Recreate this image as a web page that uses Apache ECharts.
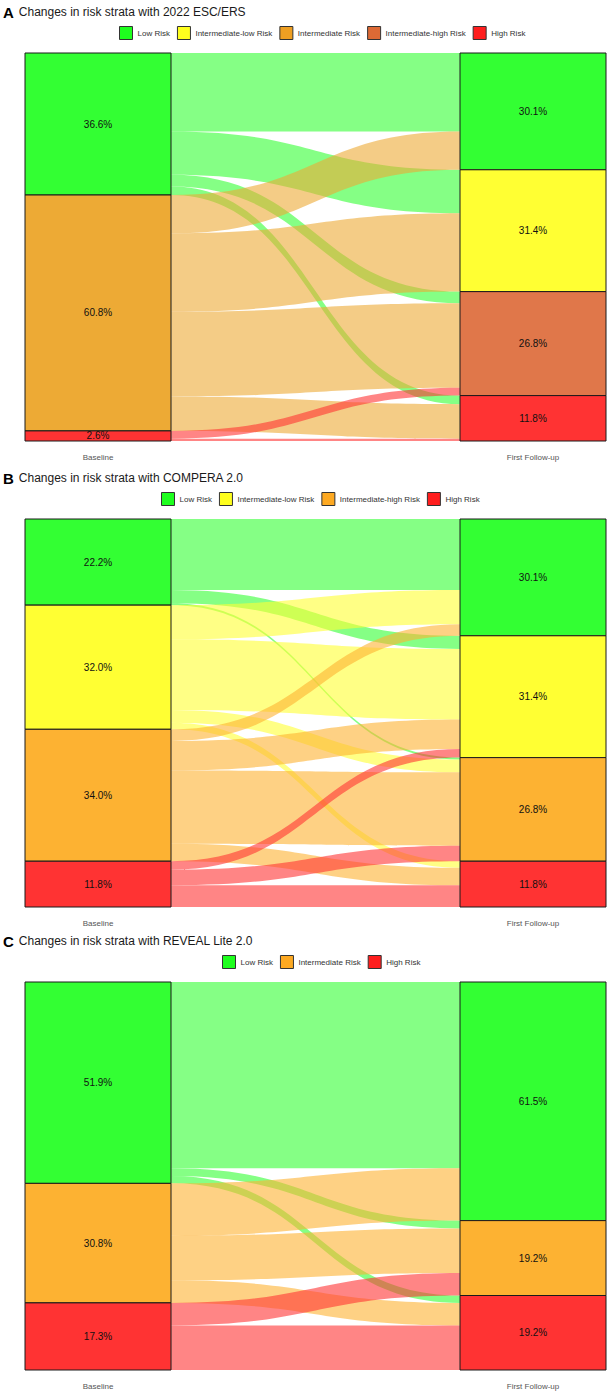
<!DOCTYPE html>
<html>
<head>
<meta charset="utf-8">
<script src="https://cdn.jsdelivr.net/npm/echarts@6/dist/echarts.min.js"></script>
<style>
html, body { margin: 0; padding: 0; background: #fff; }
#chart { width: 609px; height: 1393px; }
</style>
</head>
<body>
<div id="chart"></div>
<script>
var columns = ['Baseline', 'First Follow-up'];

// A: 2022 ESC/ERS
var legendA = ['Low Risk', 'Intermediate-low Risk', 'Intermediate Risk', 'Intermediate-high Risk', 'High Risk'];
var baselineA = ['Low Risk', 'Intermediate Risk', 'High Risk'];
var baselinePctA = [36.6, 60.8, 2.6];
var followA = ['Low Risk', 'Intermediate-low Risk', 'Intermediate-high Risk', 'High Risk'];
var followPctA = [30.1, 31.4, 26.8, 11.8];
// rows: baseline stratum, cols: follow-up stratum (% of patients)
var flowsA = [
  [20.2, 11.2, 3.0, 2.2],
  [9.9, 20.2, 21.8, 8.9],
  [0, 0, 2.0, 0.6]
];

// B: COMPERA 2.0
var legendB = ['Low Risk', 'Intermediate-low Risk', 'Intermediate-high Risk', 'High Risk'];
var baselineB = ['Low Risk', 'Intermediate-low Risk', 'Intermediate-high Risk', 'High Risk'];
var baselinePctB = [22.2, 32.0, 34.0, 11.8];
var followB = ['Low Risk', 'Intermediate-low Risk', 'Intermediate-high Risk', 'High Risk'];
var followPctB = [30.1, 31.4, 26.8, 11.8];
var flowsB = [
  [18.3, 3.4, 0.5, 0],
  [8.8, 18.2, 3.3, 1.7],
  [3.0, 7.6, 18.9, 4.5],
  [0, 2.2, 4.0, 5.6]
];

// C: REVEAL Lite 2.0
var legendC = ['Low Risk', 'Intermediate Risk', 'High Risk'];
var baselineC = ['Low Risk', 'Intermediate Risk', 'High Risk'];
var baselinePctC = [51.9, 30.8, 17.3];
var followC = ['Low Risk', 'Intermediate Risk', 'High Risk'];
var followPctC = [61.5, 19.2, 19.2];
var flowsC = [
  [48.0, 2.0, 1.9],
  [13.5, 11.5, 5.8],
  [0, 5.8, 11.5]
];

var titles = [
  ['A', 'Changes in risk strata with 2022 ESC/ERS'],
  ['B', 'Changes in risk strata with COMPERA 2.0'],
  ['C', 'Changes in risk strata with REVEAL Lite 2.0']
];

// styling
var nodeColorsA = {
  'Low Risk': '#33FF33', 'Intermediate-low Risk': '#FFFF33', 'Intermediate Risk': '#EDAA35',
  'Intermediate-high Risk': '#E0774A', 'High Risk': '#FF3333'
};
var keyColorsA = {
  'Low Risk': '#1EFF1E', 'Intermediate-low Risk': '#FFFF1E', 'Intermediate Risk': '#EE9F22',
  'Intermediate-high Risk': '#DD6A35', 'High Risk': '#FF1E1E'
};
var nodeColorsB = {
  'Low Risk': '#33FF33', 'Intermediate-low Risk': '#FFFF33', 'Intermediate-high Risk': '#FDB232', 'High Risk': '#FF3333'
};
var keyColorsB = {
  'Low Risk': '#1EFF1E', 'Intermediate-low Risk': '#FFFF1E', 'Intermediate-high Risk': '#FDA922', 'High Risk': '#FF1E1E'
};
var nodeColorsC = { 'Low Risk': '#33FF33', 'Intermediate Risk': '#FDB232', 'High Risk': '#FF3333' };
var keyColorsC = { 'Low Risk': '#1EFF1E', 'Intermediate Risk': '#FDA922', 'High Risk': '#FF1E1E' };

var font = '"Liberation Sans", Arial, Helvetica, sans-serif';
var plotLeft = 25, plotRight = 3, nodeWidth = 146, plotHeight = 388, pageWidth = 609;

var panels = [
  { off: 0, legendLeft: 119, legend: legendA, base: baselineA, basePct: baselinePctA, follow: followA, followPct: followPctA, flows: flowsA, colors: nodeColorsA, keys: keyColorsA },
  { off: 466, legendLeft: 161, legend: legendB, base: baselineB, basePct: baselinePctB, follow: followB, followPct: followPctB, flows: flowsB, colors: nodeColorsB, keys: keyColorsB },
  { off: 929, legendLeft: 222, legend: legendC, base: baselineC, basePct: baselinePctC, follow: followC, followPct: followPctC, flows: flowsC, colors: nodeColorsC, keys: keyColorsC }
];

var chart = echarts.init(document.getElementById('chart'), null, { renderer: 'svg' });

var title = [], legend = [], series = [], graphic = [];

panels.forEach(function(p, k) {
  title.push({
    text: '{a|' + titles[k][0] + '} {t|' + titles[k][1] + '}',
    left: 3,
    top: p.off + 3,
    padding: 0,
    textStyle: {
      fontWeight: 'normal',
      rich: {
        a: { fontFamily: font, fontSize: 15, fontWeight: 'bold', color: '#000' },
        t: { fontFamily: font, fontSize: 12, fontWeight: 'normal', color: '#1a1a1a' }
      }
    }
  });

  legend.push({
    left: p.legendLeft,
    top: p.off + 26,
    padding: 0,
    itemWidth: 13,
    itemHeight: 13,
    itemGap: 7,
    icon: 'rect',
    selectedMode: false,
    textStyle: { fontFamily: font, fontSize: 8, color: '#333', padding: [0, 0, 0, 0] },
    data: p.legend.map(function(name) {
      return {
        name: name,
        itemStyle: { color: p.keys[name], borderColor: '#333', borderWidth: 1 }
      };
    })
  });

  var nodes = [];
  p.base.forEach(function(name, i) {
    nodes.push({
      name: columns[0] + ': ' + name,
      itemStyle: { color: p.colors[name] },
      label: { formatter: p.basePct[i].toFixed(1) + '%' }
    });
  });
  p.follow.forEach(function(name, j) {
    nodes.push({
      name: columns[1] + ': ' + name,
      itemStyle: { color: p.colors[name] },
      label: { formatter: p.followPct[j].toFixed(1) + '%' }
    });
  });

  var links = [];
  p.flows.forEach(function(row, i) {
    row.forEach(function(v, j) {
      if (v > 0) {
        links.push({
          source: columns[0] + ': ' + p.base[i],
          target: columns[1] + ': ' + p.follow[j],
          value: v
        });
      }
    });
  });

  series.push({
    type: 'sankey',
    left: plotLeft,
    right: plotRight,
    top: p.off + 53,
    height: plotHeight,
    nodeWidth: nodeWidth,
    nodeGap: 0,
    layoutIterations: 0,
    draggable: false,
    silent: true,
    emphasis: { disabled: true },
    itemStyle: { borderColor: '#1a1a1a', borderWidth: 1 },
    lineStyle: { color: 'source', opacity: 0.6, curveness: 0.5 },
    label: { position: 'inside', fontFamily: font, fontSize: 10, color: '#111' },
    data: nodes,
    links: links
  });

  columns.forEach(function(c, n) {
    var cx = n === 0 ? plotLeft + nodeWidth / 2 : pageWidth - plotRight - nodeWidth / 2;
    graphic.push({
      type: 'text',
      x: cx,
      y: p.off + 457,
      silent: true,
      style: { text: c, align: 'center', verticalAlign: 'middle', font: '8px ' + font, fill: '#555' }
    });
  });
});

// hidden pie so that legend items have something to refer to
series.push({
  type: 'pie',
  radius: 0,
  center: [-50, -50],
  silent: true,
  label: { show: false },
  labelLine: { show: false },
  data: legendA.map(function(name) { return { name: name, value: 1 }; })
});

chart.setOption({
  animation: false,
  backgroundColor: '#fff',
  title: title,
  legend: legend,
  graphic: graphic,
  series: series
});
</script>
</body>
</html>
